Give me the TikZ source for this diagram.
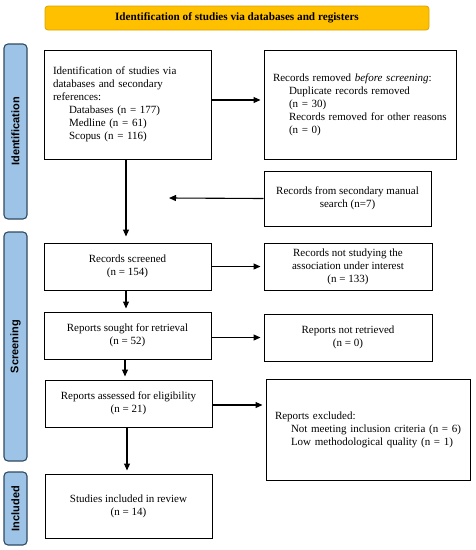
\documentclass[tikz,border=0pt]{standalone}
\usepackage{fontspec}
\setmainfont{Liberation Serif}
\setsansfont{Liberation Sans}
\usetikzlibrary{arrows.meta}
\definecolor{bannerfill}{HTML}{FFC000}
\definecolor{bannerdraw}{HTML}{D9A300}
\definecolor{barfill}{HTML}{9DC3E6}
\definecolor{bardraw}{HTML}{2F4A63}
\tikzset{
  box/.style={draw, line width=1pt, inner sep=0pt, align=center, font=\fontsize{11}{13}\selectfont},
  lbox/.style={box, align=left, inner xsep=9pt},
  arr/.style={line width=1.1pt, -{Triangle[length=7pt,width=6pt]}, shorten >=3pt},
  bar/.style={draw=bardraw, fill=barfill, line width=1.1pt, rounded corners=4pt, rotate=90, inner sep=0pt, font=\sffamily\bfseries\fontsize{11}{12}\selectfont},
  banner/.style={draw=bannerdraw, fill=bannerfill, line width=0.8pt, rounded corners=3pt, inner sep=0pt, font=\bfseries\fontsize{11.2}{12}\selectfont}
}
\newcommand\ind{\hspace*{16pt}}
\begin{document}
\begin{tikzpicture}[x=1pt,y=-1pt]
\useasboundingbox (0,0) rectangle (476,550);
\node[banner, minimum width=384pt, minimum height=24pt] (title) at (237,18) {Identification of studies via databases and registers};
\node[bar, minimum width=175pt, minimum height=23pt] (bid) at (15.5,131.5) {Identification};
\node[bar, minimum width=229pt, minimum height=23pt] (bsc) at (15.5,346.5) {Screening};
\node[bar, minimum width=73pt, minimum height=23pt] (bin) at (15.5,508.5) {Included};

\node[lbox, text width=149pt, minimum height=109pt] (ident) at (127.5,104.5) {Identification of studies via\\databases and secondary\\references:\\\ind Databases (n = 177)\\\ind Medline (n = 61)\\\ind Scopus (n = 116)};
\node[lbox, text width=174pt, minimum height=109pt] (removed) at (360,104.5) {Records removed \textit{before screening}:\\\ind Duplicate records removed\\\ind (n = 30)\\\ind Records removed for other reasons\\\ind (n = 0)};
\node[box, minimum width=167pt, minimum height=55pt] (manual) at (347.5,198.5) {Records from secondary manual\\search (n=7)};
\coordinate (join) at (169,198);
\node[box, minimum width=167pt, minimum height=47pt] (screened) at (127.5,266.5) {Records screened\\(n = 154)};
\node[box, minimum width=168pt, minimum height=47pt] (notstudy) at (348,266.5) {Records not studying the\\association under interest\\(n = 133)};
\node[box, minimum width=167pt, minimum height=47pt] (sought) at (127.5,335.5) {Reports sought for retrieval\\(n = 52)};
\node[box, minimum width=168pt, minimum height=47pt] (notret) at (348,337.5) {Reports not retrieved\\(n = 0)};
\node[box, minimum width=167pt, minimum height=47pt] (assessed) at (128.5,403.5) {Reports assessed for eligibility\\(n = 21)};
\node[lbox, text width=186pt, minimum height=101pt] (excluded) at (368,429.5) {Reports excluded:\\\ind Not meeting inclusion criteria (n = 6)\\\ind Low methodological quality (n = 1)};
\node[box, minimum width=167pt, minimum height=64pt] (included) at (128.5,506) {Studies included in review\\(n = 14)};

\draw[arr] ([yshift=4.5pt]ident.east) -- ([yshift=4.5pt]removed.west);
\draw[arr, shorten >=0pt] (manual.west) -- (join);
\draw[arr, shorten >=6pt] ([xshift=-1.5pt]ident.south) -- ([xshift=-1.5pt]screened.north);
\draw[arr] (screened.east) -- (notstudy.west);
\draw[arr] ([xshift=-1.5pt]screened.south) -- ([xshift=-1.5pt]sought.north);
\draw[arr] (sought.east |- notret.west) -- (notret.west);
\draw[arr] ([xshift=-2.5pt]sought.south) -- ([xshift=-2.5pt]sought.south |- assessed.north);
\draw[arr] ([yshift=-1.5pt]assessed.east) -- ([yshift=-1.5pt]assessed.east -| excluded.west);
\draw[arr] ([xshift=-1.5pt]assessed.south) -- ([xshift=-1.5pt]included.north);
\end{tikzpicture}
\end{document}
